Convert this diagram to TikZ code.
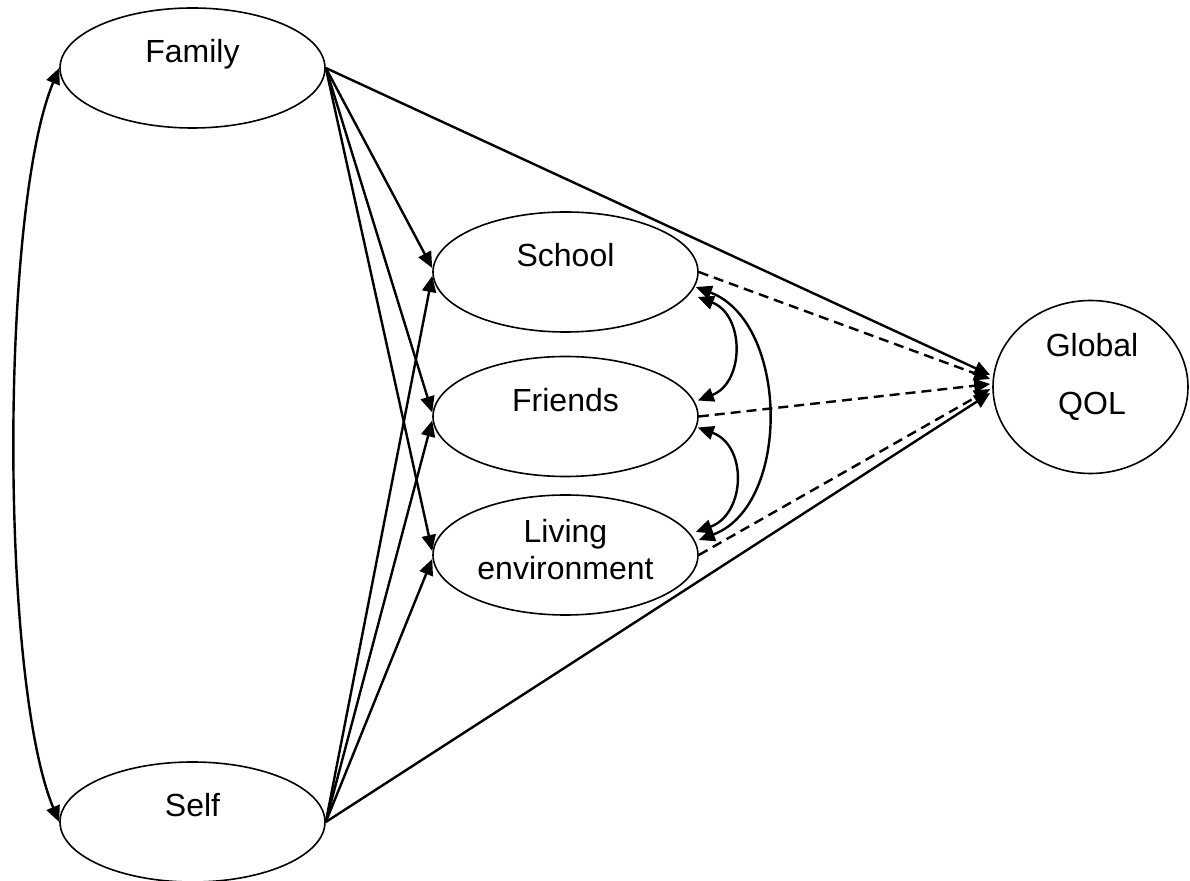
\documentclass[tikz,border=0pt]{standalone}
\usepackage{fontspec}
\setmainfont{Liberation Sans}
\usetikzlibrary{shapes.geometric,arrows.meta}
\begin{document}
\begin{tikzpicture}[x=0.5pt,y=-0.5pt,
  latent/.style={ellipse, draw, line width=0.8pt, minimum width=132.5pt, minimum height=60pt, inner sep=0pt},
  qolnode/.style={latent, minimum width=97.5pt, minimum height=86.5pt},
  lbl/.style={anchor=base, inner sep=0pt, font=\fontsize{16}{19}\selectfont},
  tip/.tip={Triangle[length=8pt,width=7pt]},
  effect/.style={line width=1.2pt, -tip},
  corr/.style={line width=1.2pt, tip-tip},
  outcome/.style={effect, dash pattern=on 5pt off 3pt},
]
\useasboundingbox (0,0) rectangle (1190,881);

% latent variables
\node[latent] (family)  at (192.5,68)  {};
\node[latent] (self)    at (192.5,822) {};
\node[latent] (school)  at (565.5,272) {};
\node[latent] (friends) at (565.5,416.5) {};
\node[latent] (living)  at (565.5,555) {};
\node[qolnode] (qol)    at (1090.5,387) {};

% labels
\node[lbl] (familytxt)  at (192.5,63)  {Family};
\node[lbl] (selftxt)    at (192.5,817) {Self};
\node[lbl] (schooltxt)  at (565.5,267) {School};
\node[lbl] (friendstxt) at (565.5,412) {Friends};
\node[lbl] (livingtxta) at (565.5,543) {Living};
\node[lbl] (livingtxtb) at (565.5,580) {environment};
\node[lbl] (qoltxta)    at (1092,357)  {Global};
\node[lbl] (qoltxtb)    at (1092,415)  {QOL};

% correlation between the exogenous factors
\draw[corr] (family.west) .. controls (0,210) and (0,680) .. (self.west);

% paths from Family
\draw[effect] (family.east) -- ([shift={(0,-4)}]school.west);
\draw[effect] (family.east) -- ([shift={(0,-4)}]friends.west);
\draw[effect] (family.east) -- ([shift={(0,-4)}]living.west);
\draw[effect] (family.east) -- ([shift={(-2,-12)}]qol.west);

% paths from Self
\draw[effect] (self.east) -- ([shift={(0,4)}]school.west);
\draw[effect] (self.east) -- ([shift={(0,4)}]friends.west);
\draw[effect] (self.east) -- ([shift={(0,4)}]living.west);
\draw[effect] (self.east) -- ([shift={(-2,6)}]qol.west);

% paths from the domains to Global QOL
\draw[outcome] (school.east)  -- ([shift={(-2,-8)}]qol.west);
\draw[outcome] (friends.east) -- ([shift={(-2,-3)}]qol.west);
\draw[outcome] (living.east)  -- ([shift={(-2,2)}]qol.west);

% correlations among the domains
\draw[corr] ([shift={(-1,25)}]school.east) .. controls +(47,18) and +(47,-18) .. ([shift={(-1,-16)}]friends.east);
\draw[corr] ([shift={(-1,11)}]friends.east) .. controls +(50,18) and +(50,-18) .. ([shift={(-3,-23)}]living.east);
\draw[corr] ([shift={(-3,15)}]school.east) .. controls +(93,35) and +(93,-35) .. ([shift={(0,-15)}]living.east);
\end{tikzpicture}
\end{document}
